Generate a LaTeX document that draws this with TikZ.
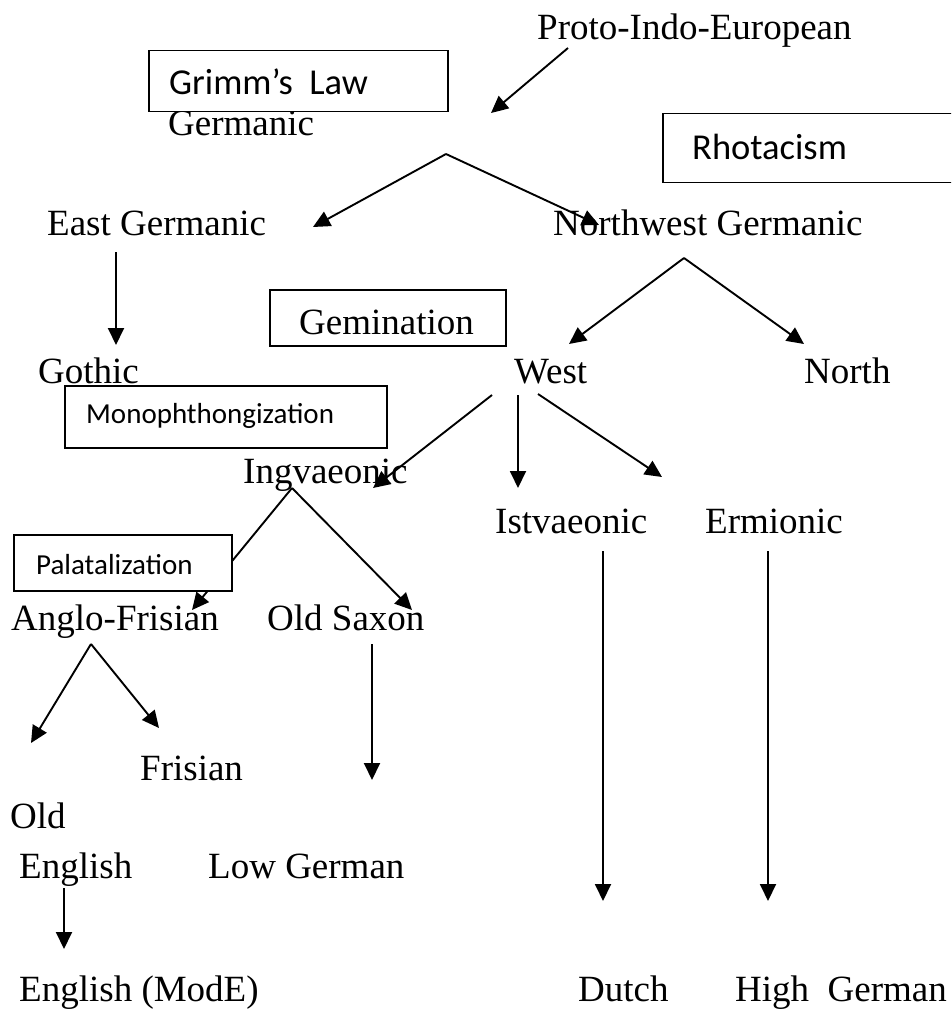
\documentclass[tikz,border=0pt]{standalone}
\usepackage{fontspec}
\setmainfont{Liberation Serif}
\newfontfamily\boxfont{Carlito}
\usetikzlibrary{arrows.meta}
\tikzset{
  lang/.style={anchor=base west, inner sep=0pt, font=\fontsize{37}{44}\selectfont},
  boxtext/.style={anchor=base west, inner sep=0pt, font=\boxfont\fontsize{36.5}{43}\selectfont},
  smallboxtext/.style={anchor=base west, inner sep=0pt, font=\boxfont\fontsize{29}{35}\selectfont},
  rulebox/.style={draw, fill=white, line width=1.5pt, anchor=north west, inner sep=0pt},
  conn/.style={line width=1.9pt, -{Triangle[length=17pt,width=16pt]}}
}
\begin{document}
\begin{tikzpicture}[x=1pt,y=-1pt]
\useasboundingbox (0,0) rectangle (951,1011);
\clip (0,0) rectangle (951,1011);
\fill[white] (0,0) rectangle (951,1011);

% language labels
\node[lang] (pie) at (537,40) {Proto-Indo-European};
\node[lang] (gmc) at (168,136) {Germanic};
\node[lang] (egmc) at (47,235) {East Germanic};
\node[lang] (nwgmc) at (553,235) {Northwest Germanic};
\node[lang] (goth) at (38,383) {Gothic};
\node[lang] (west) at (514,383) {West};
\node[lang] (north) at (804,383) {North};
\node[lang] (ingv) at (243,483) {Ingvaeonic};
\node[lang] (istv) at (495,533) {Istvaeonic};
\node[lang] (erm) at (705,533) {Ermionic};
\node[lang] (angfri) at (11,630) {Anglo-Frisian};
\node[lang] (osax) at (267,630) {Old Saxon};
\node[lang] (fris) at (140,780) {Frisian};
\node[lang] (old) at (10,828) {Old};
\node[lang] (oe) at (19,878) {English};
\node[lang] (lowg) at (208,878) {Low German};
\node[lang] (mode) at (19,1001) {English (ModE)};
\node[lang] (dutch) at (578,1001) {Dutch};
\node[lang] (highg) at (735,1001) {High\ \ German};

% connector end points
\coordinate (pie-s) at (568,48);
\coordinate (gmc-t) at (491,113);
\coordinate (gmc-s) at (446,154);
\coordinate (egmc-t) at (313,227);
\coordinate (nwgmc-t) at (599,225);
\coordinate (egmc-s) at (116,252);
\coordinate (goth-t) at (116,345);
\coordinate (nwgmc-s) at (684,258);
\coordinate (west-t) at (569,344);
\coordinate (north-t) at (804,344);
\coordinate (west-sl) at (492,395);
\coordinate (ingv-t) at (373,488);
\coordinate (west-sm) at (518,395);
\coordinate (istv-t) at (518,488);
\coordinate (west-sr) at (538,394);
\coordinate (erm-t) at (662,477);
\coordinate (ingv-s) at (292,488);
\coordinate (angfri-t) at (192,610);
\coordinate (osax-t) at (412,610);
\coordinate (angfri-s) at (91,644);
\coordinate (oe-t) at (31,743);
\coordinate (fris-t) at (159,728);
\coordinate (osax-s) at (372,644);
\coordinate (lowg-t) at (372,780);
\coordinate (istv-s) at (603,551);
\coordinate (dutch-t) at (603,901);
\coordinate (erm-s) at (768,551);
\coordinate (highg-t) at (768,901);
\coordinate (oe-s) at (64,888);
\coordinate (mode-t) at (64,949);

% connectors
\draw[conn] (pie-s) -- (gmc-t);
\draw[conn] (gmc-s) -- (egmc-t);
\draw[conn] (gmc-s) -- (nwgmc-t);
\draw[conn] (egmc-s) -- (goth-t);
\draw[conn] (nwgmc-s) -- (west-t);
\draw[conn] (nwgmc-s) -- (north-t);
\draw[conn] (west-sl) -- (ingv-t);
\draw[conn] (west-sm) -- (istv-t);
\draw[conn] (west-sr) -- (erm-t);
\draw[conn] (ingv-s) -- (angfri-t);
\draw[conn] (ingv-s) -- (osax-t);
\draw[conn] (angfri-s) -- (oe-t);
\draw[conn] (angfri-s) -- (fris-t);
\draw[conn] (osax-s) -- (lowg-t);
\draw[conn] (istv-s) -- (dutch-t);
\draw[conn] (erm-s) -- (highg-t);
\draw[conn] (oe-s) -- (mode-t);

% sound-change boxes
\node[rulebox, minimum width=299pt, minimum height=61pt] (grimmbox) at (148,50) {};
\node[boxtext] (grimm) at (169,95) {Grimm’s\ \ Law};
\node[rulebox, minimum width=300pt, minimum height=69pt] (rhotbox) at (662,113) {};
\node[boxtext] (rhot) at (692,160) {Rhotacism};
\node[rulebox, minimum width=236pt, minimum height=56pt] (gembox) at (269,289) {};
\node[lang] (gem) at (299,334) {Gemination};
\node[rulebox, minimum width=322pt, minimum height=62pt] (monobox) at (64,385) {};
\node[smallboxtext] (mono) at (86,423) {Monophthongization};
\node[rulebox, minimum width=218pt, minimum height=56pt] (palbox) at (13,534) {};
\node[smallboxtext] (pal) at (36,574) {Palatalization};
\end{tikzpicture}
\end{document}
